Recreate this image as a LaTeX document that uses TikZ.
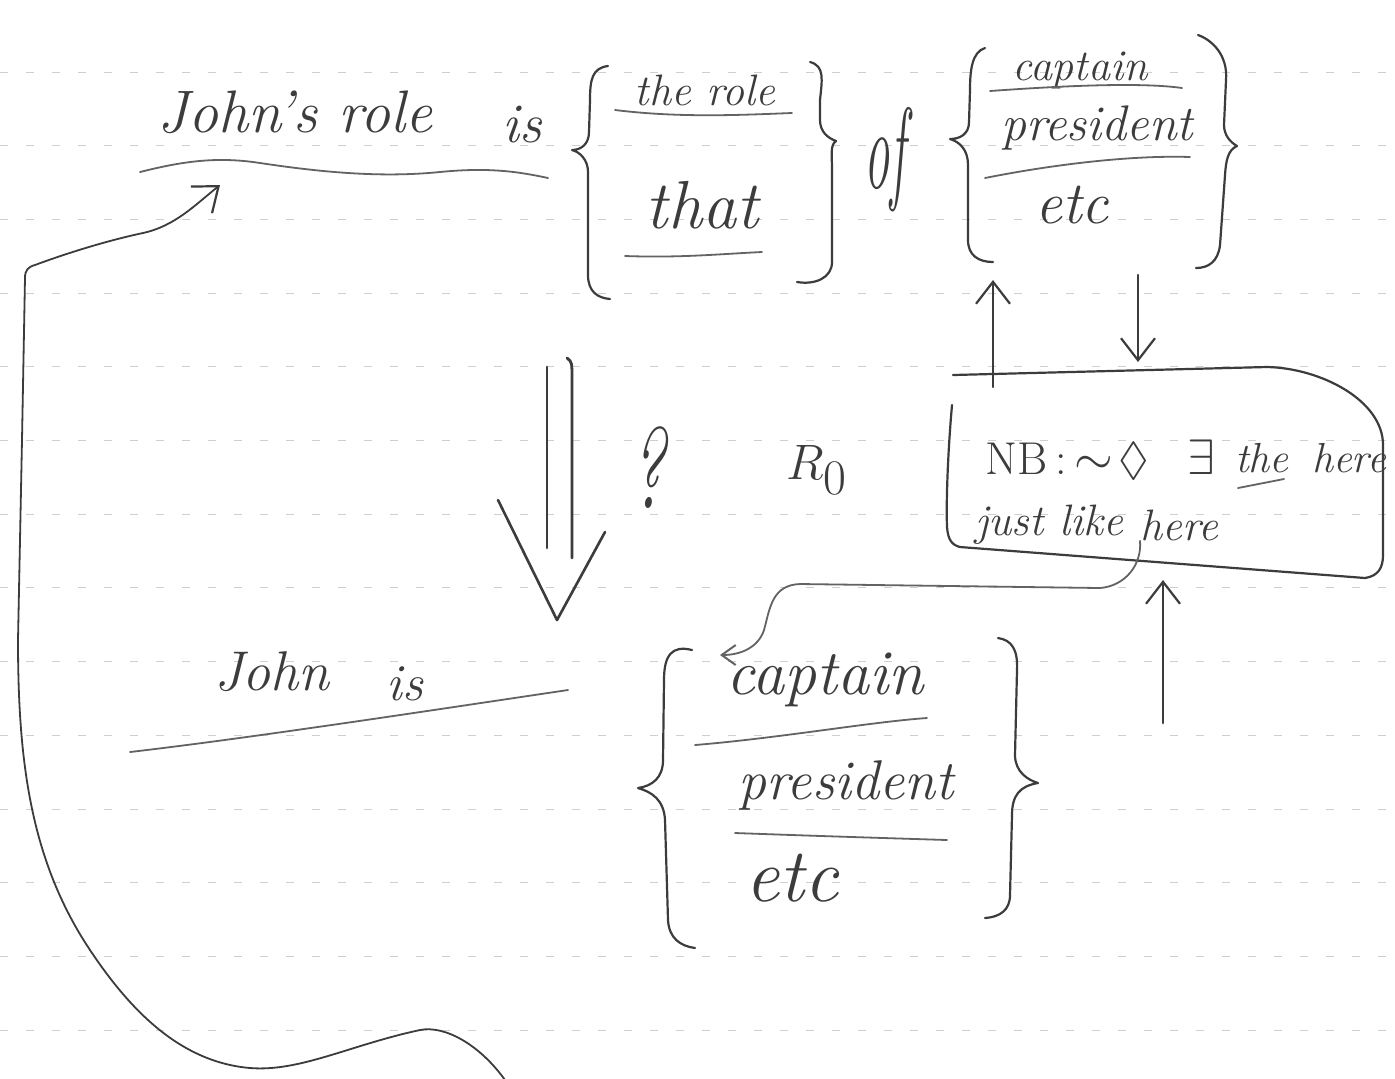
\documentclass[tikz,border=0pt]{standalone}
\usepackage{amssymb}
\usetikzlibrary{arrows.meta}
\definecolor{ink}{HTML}{3C3C3C}
\definecolor{rulegray}{HTML}{CFCFCF}
\newcommand\handsize[1]{\fontsize{#1}{#1}\selectfont\itshape}
\tikzset{
  pen/.style={draw=ink, line width=1.1pt, line cap=round, line join=round},
  lightpen/.style={draw=ink!80, line width=0.9pt, line cap=round, line join=round},
  barb/.style={-{Straight Barb[length=11pt,width=17pt,line width=1.1pt]}},
  smallbarb/.style={-{Straight Barb[length=7pt,width=10pt,line width=1pt]}},
  hand/.style={text=ink, inner sep=0pt},
  ruled/.style={draw=rulegray, line width=0.5pt, dash pattern=on 4pt off 9pt},
}
\begin{document}
\begin{tikzpicture}[x=0.5pt, y=-0.5pt]
  % page and its ruling
  \fill[white] (0,0) rectangle (1395,1078);
  \useasboundingbox (0,0) rectangle (1395,1078);
  \foreach \k in {0,...,13} \draw[ruled] (0,{72+73.7*\k}) -- (1395,{72+73.7*\k});

  % ---------- upper statement ----------
  \node[hand, font=\handsize{30}] (johnsrole) at (295,112) {John's role};
  \node[hand, font=\handsize{28}] (is1) at (522,125) {is};
  \draw[lightpen] (140,172) .. controls (180,162) and (215,156) .. (260,163)
        .. controls (320,172) and (380,178) .. (440,172)
        .. controls (490,167) and (520,172) .. (548,178);

  % first alternative set
  \draw[pen] (608,66) .. controls (592,68) and (590,80) .. (590,100) -- (589,132)
        .. controls (589,145) and (580,150) .. (572,150)
        .. controls (580,152) and (588,160) .. (588,172) -- (588,275)
        .. controls (588,292) and (598,298) .. (610,299);
  \node[hand, font=\handsize{22}] (therole) at (705,90) {the role};
  \draw[lightpen] (615,110) .. controls (680,118) and (740,115) .. (792,113);
  \node[hand, font=\handsize{34}] (that) at (702,205) {that};
  \draw[lightpen] (625,256) .. controls (680,258) and (720,254) .. (762,252);
  \draw[pen] (810,62) .. controls (825,66) and (822,80) .. (820,100) -- (820,120)
        .. controls (820,132) and (828,138) .. (836,141)
        .. controls (830,145) and (832,155) .. (832,170) -- (832,262)
        .. controls (832,278) and (815,285) .. (797,282);

  \node[hand, font=\handsize{36}] (of) at (885,160) {\scalebox{0.7}[1.6]{of}};

  % second alternative set
  \draw[pen] (985,48) .. controls (972,52) and (970,70) .. (970,90) -- (969,122)
        .. controls (969,134) and (960,139) .. (950,139)
        .. controls (960,142) and (968,150) .. (968,165) -- (968,240)
        .. controls (968,255) and (978,262) .. (993,262);
  \node[hand, font=\handsize{22}] (captain1) at (1080,70) {captain};
  \draw[lightpen] (990,91) .. controls (1060,86) and (1140,82) .. (1182,88);
  \node[hand, font=\handsize{25}] (president1) at (1097,128) {president};
  \draw[lightpen] (985,178) .. controls (1050,165) and (1130,155) .. (1190,157);
  \node[hand, font=\handsize{30}] (etc1) at (1072,205) {etc};
  \draw[pen] (1198,35) .. controls (1212,40) and (1228,55) .. (1226,80) -- (1224,125)
        .. controls (1224,135) and (1230,142) .. (1237,146)
        .. controls (1228,150) and (1226,160) .. (1225,175) -- (1220,245)
        .. controls (1218,262) and (1208,268) .. (1196,268);

  % ---------- note box ----------
  \draw[pen] (952,405) .. controls (948,450) and (946,500) .. (947,527)
        .. controls (948,540) and (952,545) .. (960,547)
        -- (1365,578) .. controls (1378,576) and (1383,568) .. (1383,555)
        -- (1383,445) .. controls (1383,400) and (1320,368) .. (1267,367)
        -- (953,375);
  \node[hand, font=\fontsize{23}{23}\selectfont, anchor=west] (nb) at (985,460)
        {NB\,:\,$\sim\!\Diamond$\;\;\;$\exists$};
  \node[hand, font=\handsize{21}] (the1) at (1262,458) {the};
  \draw[lightpen] (1238,488) -- (1284,479);
  \node[hand, font=\handsize{21}] (here1) at (1349,458) {here};
  \node[hand, font=\handsize{22}, anchor=west] (justlike) at (975,525) {just like};
  \node[hand, font=\handsize{22}, anchor=west] (here2) at (1140,525) {here};

  \coordinate (boxup) at (993,387);
  \coordinate (braceup) at (993,280);
  \coordinate (bracedown) at (1138,275);
  \coordinate (boxdown) at (1138,362);
  \draw[pen, barb] (boxup) -- (braceup);
  \draw[pen, barb] (bracedown) -- (boxdown);

  % ---------- inference arrow ----------
  \draw[pen, line width=1.4pt] (547,367) -- (547,548);
  \draw[pen, line width=1.4pt] (567,358) .. controls (572,362) .. (572,380) -- (572,558);
  \draw[pen, line width=1.3pt] (498,500) -- (557,620) -- (605,532);
  \node[hand, font=\handsize{44}] (qmark) at (648,468) {\scalebox{0.8}[1.3]{?}};
  \node[hand, font=\fontsize{34}{34}\selectfont] (rnought) at (817,470) {$R_0$};

  % ---------- lower statement ----------
  \node[hand, font=\handsize{28}] (john) at (272,672) {John};
  \node[hand, font=\handsize{26}] (is2) at (405,684) {is};
  \draw[lightpen] (130,752) .. controls (250,738) and (420,712) .. (568,690);

  \draw[pen] (692,650) .. controls (672,645) and (664,655) .. (664,680) -- (663,760)
        .. controls (663,778) and (652,786) .. (638,788)
        .. controls (652,792) and (664,800) .. (665,820) -- (668,920)
        .. controls (669,938) and (680,946) .. (695,948);
  \node[hand, font=\handsize{32}] (captain2) at (825,680) {captain};
  \draw[lightpen] (695,745) .. controls (780,738) and (870,722) .. (927,718);
  \node[hand, font=\handsize{28}] (president2) at (846,785) {president};
  \draw[lightpen] (735,833) .. controls (820,836) .. (947,840);
  \node[hand, font=\handsize{38}] (etc2) at (792,878) {etc};
  \draw[pen] (998,638) .. controls (1012,640) and (1018,650) .. (1017,670) -- (1015,755)
        .. controls (1015,772) and (1028,780) .. (1038,783)
        .. controls (1020,786) and (1012,795) .. (1012,815) -- (1010,895)
        .. controls (1010,910) and (1000,917) .. (985,918);

  % arrow from below into the note box
  \coordinate (lowfoot) at (1163,723);
  \coordinate (boxbottom) at (1163,580);
  \draw[pen, line width=1.4pt, barb] (lowfoot) -- (boxbottom);

  % "here" points to the lower captain
  \coordinate (captip) at (720,655);
  \draw[lightpen, smallbarb] (here2.south west)
        .. controls (1142,565) and (1125,586) .. (1100,588)
        -- (800,584) .. controls (772,585) and (770,608) .. (764,630)
        .. controls (758,648) and (740,655) .. (captip);

  % long loop from the bottom back to John's role
  \coordinate (loopstart) at (505,1080);
  \coordinate (jrtip) at (220,185);
  \draw[pen, line width=0.9pt, barb] (loopstart)
        .. controls (480,1045) and (445,1025) .. (420,1030)
        .. controls (350,1045) and (300,1072) .. (250,1068)
        .. controls (180,1062) and (130,1010) .. (90,950)
        .. controls (30,860) and (18,760) .. (18,640)
        -- (22,440) -- (25,278)
        .. controls (25,270) and (28,267) .. (35,265)
        .. controls (70,252) and (110,240) .. (143,233)
        .. controls (175,226) and (195,205) .. (jrtip);
\end{tikzpicture}
\end{document}
